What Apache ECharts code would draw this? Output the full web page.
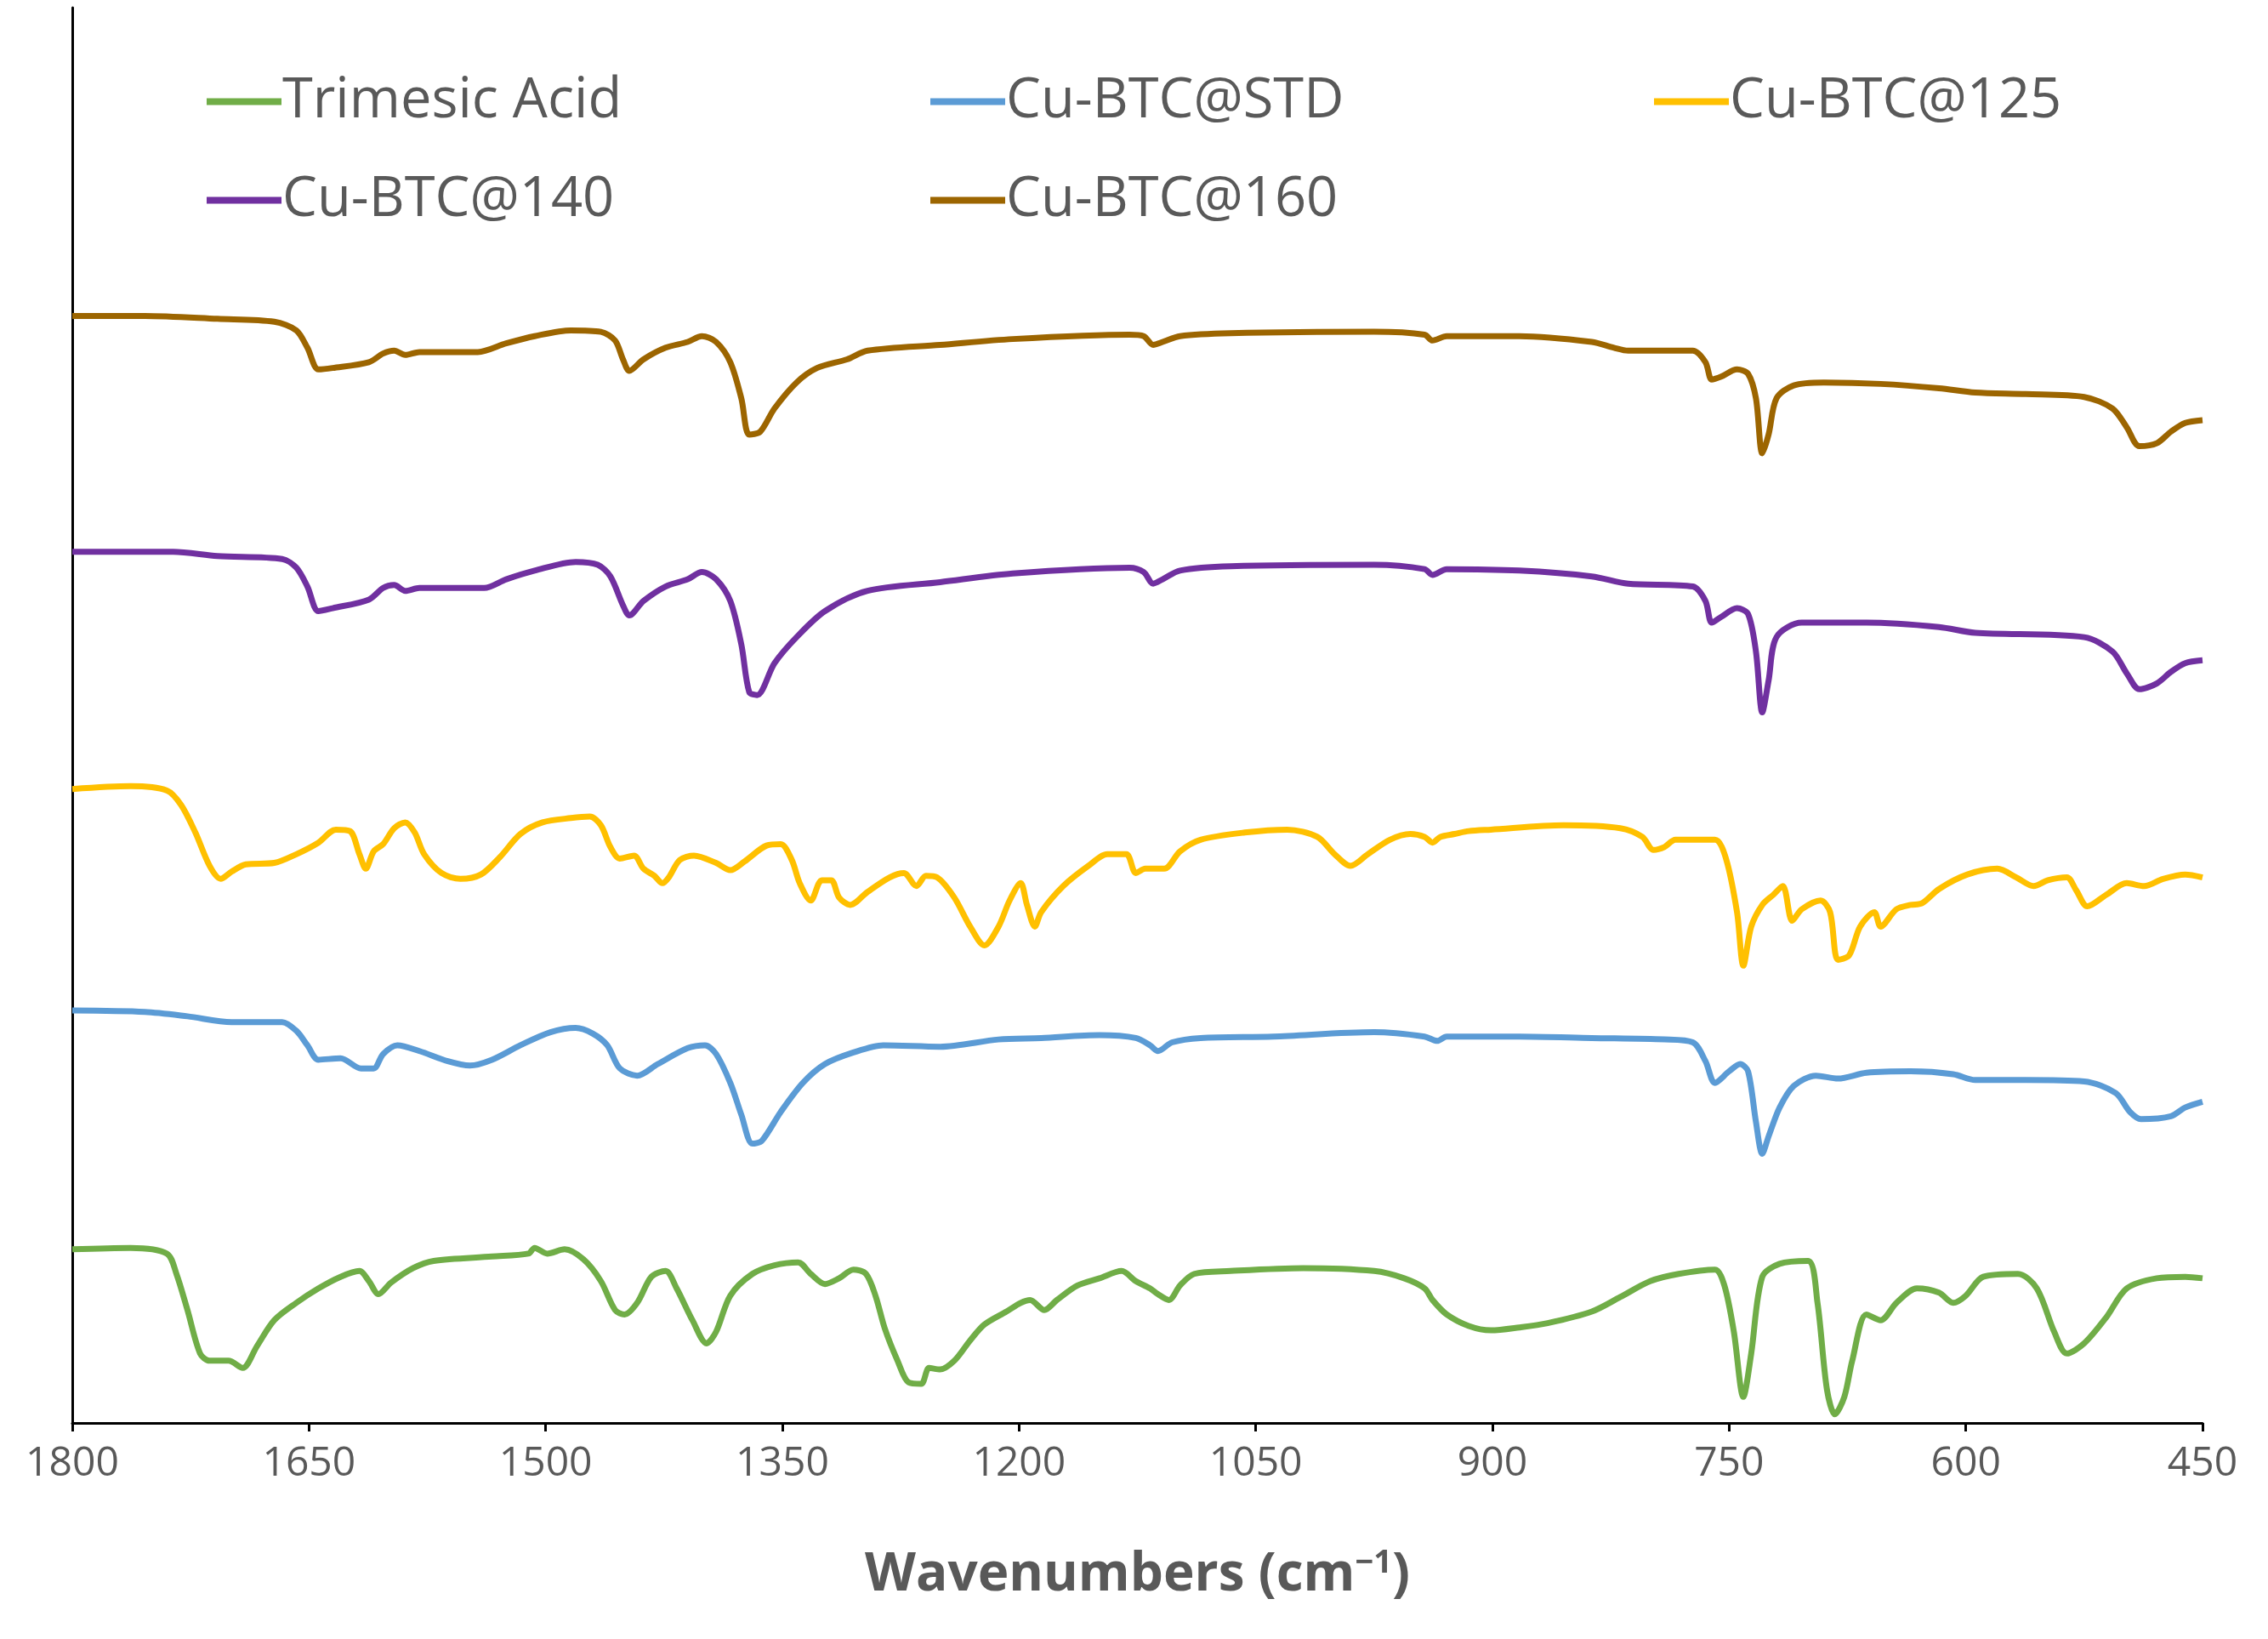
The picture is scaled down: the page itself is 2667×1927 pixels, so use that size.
<!DOCTYPE html>
<html>
<head>
<meta charset="utf-8">
<script src="https://cdn.jsdelivr.net/npm/echarts@6/dist/echarts.min.js"></script>
<style>
html,body{margin:0;padding:0;background:#fff;}
#chart{width:2667px;height:1927px;}
</style>
</head>
<body>
<div id="chart"></div>
<script>
// FTIR spectra, offset-stacked, arbitrary intensity units
// each point is [wavenumber, intensity]
const seriesNames = ['Trimesic Acid', 'Cu-BTC@STD', 'Cu-BTC@125', 'Cu-BTC@140', 'Cu-BTC@160'];
const seriesColors = ['#70AD47', '#5B9BD5', '#FFC000', '#7030A0', '#9C6500'];
const xTicks = [1800, 1650, 1500, 1350, 1200, 1050, 900, 750, 600, 450];

const trimesicAcid = [[1800,120],[1763,121],[1740,117],[1734,103],[1727,78],[1719,48],[1713,43],[1701,43],[1692,38],[1683,53],[1672,71],[1658,83],[1644,93],[1630,101],[1618,105],[1612,98],[1606,89],[1598,97],[1584,107],[1571,112],[1534,115],[1511,117],[1507,121],[1499,117],[1488,120],[1476,113],[1465,98],[1456,78],[1450,75],[1442,83],[1433,101],[1424,105],[1417,93],[1407,71],[1398,55],[1392,63],[1383,88],[1369,103],[1355,109],[1340,111],[1332,103],[1323,96],[1314,100],[1305,106],[1297,103],[1291,88],[1285,65],[1277,43],[1270,28],[1262,27],[1257,38],[1250,37],[1241,43],[1231,57],[1222,68],[1208,77],[1199,83],[1193,85],[1184,78],[1176,85],[1163,95],[1149,100],[1135,105],[1126,98],[1117,93],[1112,89],[1105,85],[1098,95],[1089,103],[1066,105],[1020,107],[975,105],[956,100],[943,93],[938,85],[929,75],[915,67],[901,64],[883,66],[865,69],[837,77],[819,87],[800,98],[782,103],[759,106],[753,95],[747,63],[741,18],[736,48],[729,101],[718,110],[700,112],[694,83],[688,23],[683,6],[677,18],[672,43],[663,75],[654,71],[644,83],[631,93],[617,90],[608,83],[600,88],[589,101],[567,103],[555,93],[544,63],[536,48],[525,55],[511,73],[498,93],[479,100],[461,101],[450,100]];

const cuBtcStd = [[1800,285],[1754,284],[1727,281],[1699,277],[1667,277],[1658,271],[1651,261],[1644,251],[1630,252],[1617,245],[1609,245],[1603,255],[1594,261],[1580,257],[1562,250],[1548,247],[1534,251],[1516,261],[1497,270],[1481,273],[1470,269],[1461,261],[1453,245],[1442,240],[1429,248],[1410,259],[1399,261],[1392,255],[1383,235],[1376,213],[1369,193],[1363,195],[1351,215],[1337,235],[1323,248],[1305,256],[1286,261],[1250,260],[1213,265],[1186,266],[1149,268],[1126,266],[1117,261],[1112,257],[1103,263],[1085,266],[1039,267],[975,270],[943,267],[935,264],[929,267],[883,267],[837,266],[791,265],[773,263],[765,250],[759,235],[750,243],[743,248],[738,243],[733,208],[729,186],[725,198],[718,218],[709,233],[695,240],[681,238],[663,242],[635,243],[608,241],[594,237],[562,237],[525,236],[505,228],[496,215],[489,210],[470,212],[461,218],[450,222]];

const cuBtc125 = [[1800,438],[1763,440],[1740,437],[1731,427],[1722,408],[1713,385],[1706,376],[1699,381],[1690,386],[1672,387],[1658,393],[1644,401],[1633,410],[1624,409],[1618,393],[1614,383],[1609,395],[1603,400],[1596,411],[1589,415],[1583,408],[1577,393],[1566,380],[1554,376],[1541,379],[1529,391],[1516,407],[1502,415],[1484,418],[1472,419],[1465,413],[1459,398],[1453,390],[1444,392],[1438,383],[1431,378],[1426,373],[1422,377],[1415,389],[1406,392],[1392,387],[1383,382],[1374,388],[1360,399],[1351,400],[1344,389],[1339,373],[1332,361],[1325,375],[1319,375],[1314,363],[1307,358],[1296,367],[1282,377],[1273,380],[1265,371],[1259,378],[1252,377],[1241,363],[1231,343],[1222,330],[1213,343],[1206,361],[1199,373],[1195,358],[1190,343],[1186,353],[1172,371],[1156,385],[1144,393],[1132,393],[1126,380],[1120,383],[1108,383],[1098,395],[1085,403],[1057,408],[1030,410],[1011,405],[1000,393],[990,385],[979,393],[965,403],[952,407],[943,405],[938,401],[933,405],[924,407],[915,409],[901,410],[855,413],[819,411],[805,405],[798,396],[791,398],[784,403],[759,403],[752,390],[745,353],[741,316],[736,343],[729,358],[722,365],[716,371],[710,347],[704,355],[692,361],[686,353],[681,320],[674,323],[667,343],[658,353],[654,343],[644,355],[635,358],[628,359],[617,369],[599,379],[580,383],[568,377],[557,371],[548,375],[536,377],[530,368],[523,357],[511,365],[498,373],[487,371],[475,376],[461,379],[450,377]];

const cuBtc140 = [[1800,602],[1736,602],[1708,599],[1667,597],[1658,591],[1651,578],[1644,561],[1635,563],[1612,569],[1603,577],[1596,579],[1589,575],[1580,577],[1539,577],[1525,583],[1507,589],[1481,595],[1467,593],[1459,585],[1451,565],[1447,558],[1438,568],[1424,578],[1410,583],[1401,588],[1392,583],[1383,568],[1376,538],[1371,505],[1366,503],[1355,525],[1341,543],[1323,561],[1296,575],[1250,581],[1204,587],[1130,591],[1121,588],[1115,580],[1109,583],[1098,589],[1066,592],[975,593],[943,590],[938,586],[929,590],[883,589],[837,585],[814,580],[773,578],[765,568],[761,553],[755,557],[745,563],[738,559],[733,533],[729,491],[725,513],[720,543],[704,553],[663,553],[617,550],[594,546],[525,543],[507,533],[498,518],[490,507],[479,511],[470,519],[461,525],[450,527]];

const cuBtc160 = [[1800,765],[1754,765],[1708,763],[1672,761],[1658,755],[1651,743],[1644,728],[1635,729],[1612,733],[1603,739],[1596,741],[1589,738],[1580,740],[1543,740],[1525,746],[1507,751],[1484,755],[1465,754],[1456,748],[1451,735],[1447,727],[1438,735],[1424,743],[1410,747],[1401,751],[1392,747],[1383,733],[1376,708],[1371,683],[1364,685],[1355,701],[1341,719],[1328,729],[1309,735],[1296,741],[1250,745],[1204,749],[1130,752],[1121,751],[1115,745],[1109,747],[1098,751],[1066,753],[975,754],[943,752],[938,748],[929,751],[883,751],[837,747],[823,743],[814,741],[773,741],[765,733],[761,721],[755,723],[745,728],[738,725],[733,708],[729,670],[725,683],[720,708],[709,717],[690,719],[654,718],[617,715],[594,712],[562,711],[525,709],[507,701],[498,688],[490,675],[479,677],[470,685],[461,691],[450,693]];

const seriesData = [trimesicAcid, cuBtcStd, cuBtc125, cuBtc140, cuBtc160];

const chart = echarts.init(document.getElementById('chart'));

// legend: 3 columns x 2 rows, one legend component per item
const legendCols = [238, 1089, 1940];
const legendRows = [82, 198];
const legends = seriesNames.map(function(name, i) {
    return {
        data: [name],
        left: legendCols[i % 3],
        top: legendRows[Math.floor(i / 3)],
        itemWidth: 88,
        itemHeight: 8,
        itemGap: 0,
        icon: 'rect',
        textStyle: {
            fontFamily: 'Open Sans',
            fontSize: 65,
            color: '#595959',
            padding: [0, 0, 0, -4]
        }
    };
});

chart.setOption({
    animation: false,
    backgroundColor: '#fff',
    legend: legends,
    grid: {
        left: 85,
        right: 77,
        top: 9,
        bottom: 254,
        containLabel: false
    },
    xAxis: {
        type: 'value',
        inverse: true,
        min: 450,
        max: 1800,
        interval: 150,
        name: '{b|Wavenumbers (cm}{s|−1}{b|)}',
        nameLocation: 'middle',
        nameGap: 146,
        nameTextStyle: {
            rich: {
                b: { fontFamily: 'Open Sans', fontSize: 62, fontWeight: 'bold', color: '#595959' },
                s: { fontFamily: 'Open Sans', fontSize: 38, fontWeight: 'bold', color: '#595959', verticalAlign: 'top', padding: [0, 0, 28, 0] }
            }
        },
        axisLine: { lineStyle: { color: '#000', width: 3 } },
        axisTick: { show: true, length: 10, lineStyle: { color: '#000', width: 3 } },
        axisLabel: {
            fontFamily: 'Open Sans',
            fontSize: 48,
            color: '#595959',
            margin: 24,
            formatter: function(v) { return xTicks.indexOf(v) >= 0 ? String(v) : ''; }
        },
        splitLine: { show: false }
    },
    yAxis: {
        type: 'value',
        min: 0,
        max: 978,
        axisLine: { show: true, lineStyle: { color: '#000', width: 3 } },
        axisTick: { show: false },
        axisLabel: { show: false },
        splitLine: { show: false }
    },
    series: seriesNames.map(function(name, i) {
        return {
            name: name,
            type: 'line',
            data: seriesData[i],
            smooth: 0.3,
            showSymbol: false,
            lineStyle: { color: seriesColors[i], width: 7 },
            itemStyle: { color: seriesColors[i] }
        };
    })
});
</script>
</body>
</html>
